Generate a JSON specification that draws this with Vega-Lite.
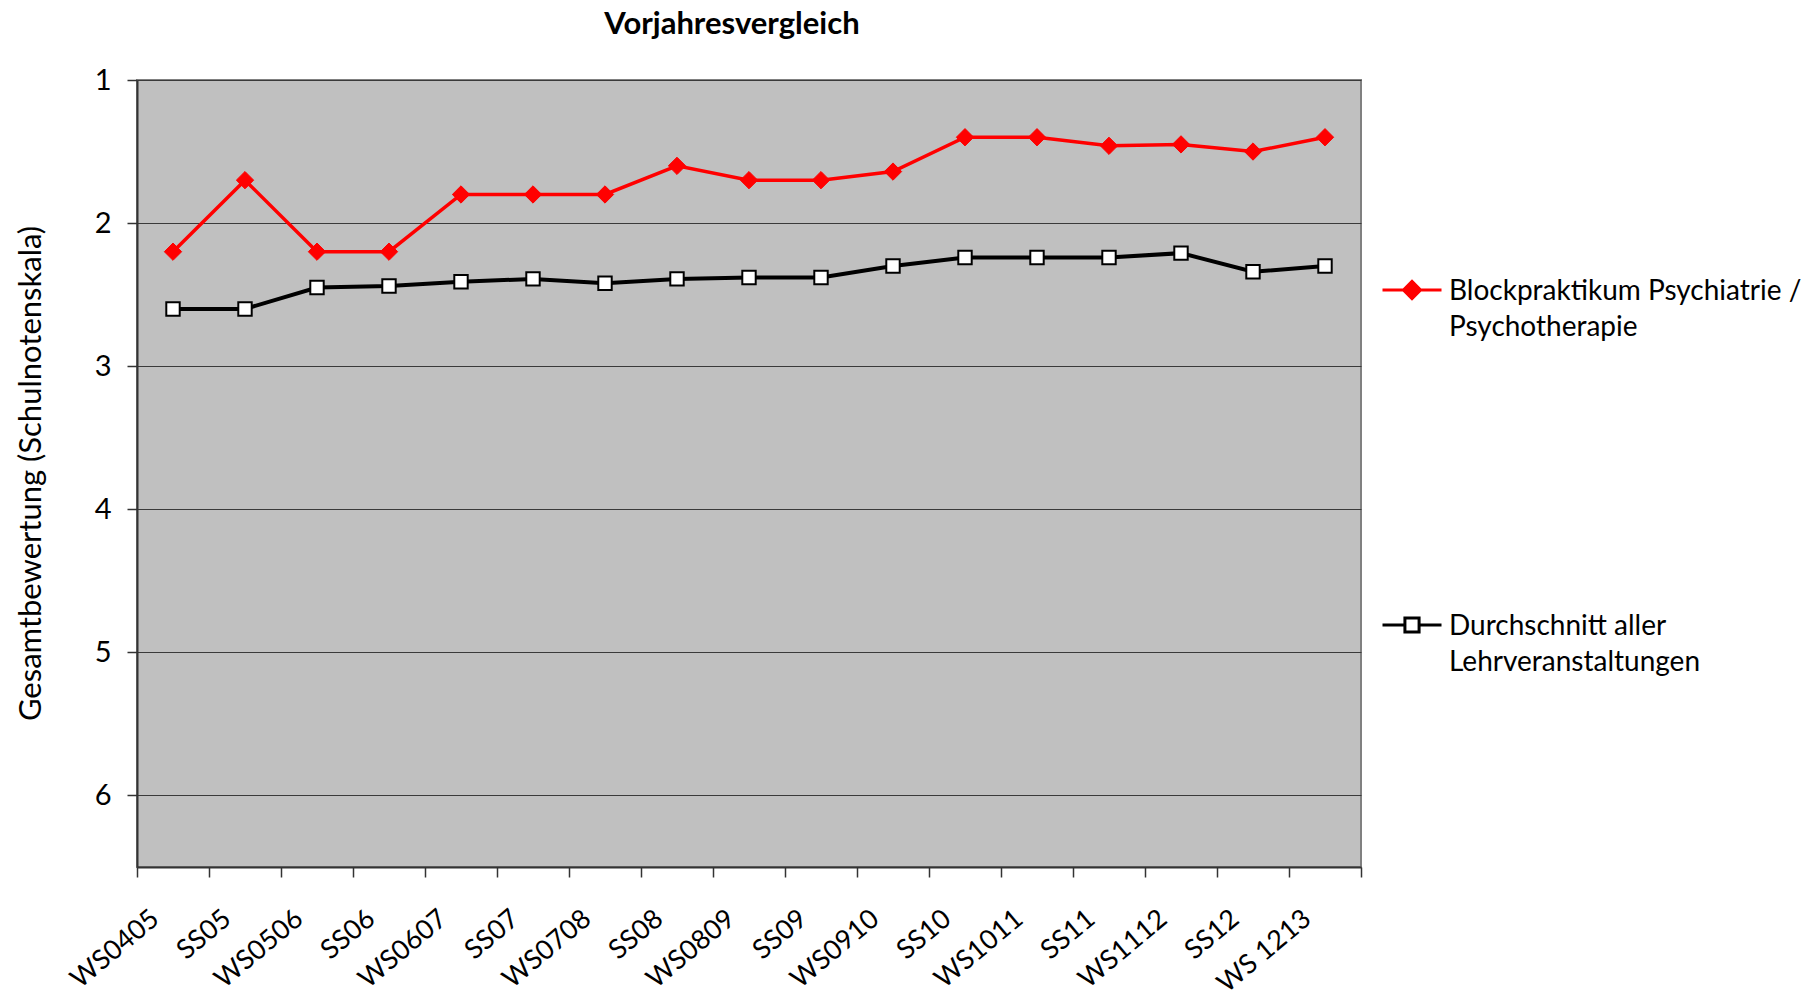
{
  "$schema": "https://vega.github.io/schema/vega-lite/v6.json",
  "width": 1224,
  "height": 787,
  "autosize": "none",
  "padding": {"left": 137, "top": 80, "right": 451, "bottom": 128},
  "background": "#ffffff",
  "title": {"text": "Vorjahresvergleich", "font": "Lato", "fontSize": 31, "fontWeight": "bold", "color": "#000000", "anchor": "middle", "dx": -17, "offset": 25},
  "config": {
    "view": {"fill": "#c0c0c0", "stroke": "#808080", "strokeWidth": 2},
    "style": {"guide-label": {"lineHeight": 36}}
  },
  "data": {"values": [
    {"term": "WS0405", "series": "Blockpraktikum Psychiatrie / Psychotherapie", "value": 2.2},
    {"term": "SS05", "series": "Blockpraktikum Psychiatrie / Psychotherapie", "value": 1.7},
    {"term": "WS0506", "series": "Blockpraktikum Psychiatrie / Psychotherapie", "value": 2.2},
    {"term": "SS06", "series": "Blockpraktikum Psychiatrie / Psychotherapie", "value": 2.2},
    {"term": "WS0607", "series": "Blockpraktikum Psychiatrie / Psychotherapie", "value": 1.8},
    {"term": "SS07", "series": "Blockpraktikum Psychiatrie / Psychotherapie", "value": 1.8},
    {"term": "WS0708", "series": "Blockpraktikum Psychiatrie / Psychotherapie", "value": 1.8},
    {"term": "SS08", "series": "Blockpraktikum Psychiatrie / Psychotherapie", "value": 1.6},
    {"term": "WS0809", "series": "Blockpraktikum Psychiatrie / Psychotherapie", "value": 1.7},
    {"term": "SS09", "series": "Blockpraktikum Psychiatrie / Psychotherapie", "value": 1.7},
    {"term": "WS0910", "series": "Blockpraktikum Psychiatrie / Psychotherapie", "value": 1.64},
    {"term": "SS10", "series": "Blockpraktikum Psychiatrie / Psychotherapie", "value": 1.4},
    {"term": "WS1011", "series": "Blockpraktikum Psychiatrie / Psychotherapie", "value": 1.4},
    {"term": "SS11", "series": "Blockpraktikum Psychiatrie / Psychotherapie", "value": 1.46},
    {"term": "WS1112", "series": "Blockpraktikum Psychiatrie / Psychotherapie", "value": 1.45},
    {"term": "SS12", "series": "Blockpraktikum Psychiatrie / Psychotherapie", "value": 1.5},
    {"term": "WS 1213", "series": "Blockpraktikum Psychiatrie / Psychotherapie", "value": 1.4},
    {"term": "WS0405", "series": "Durchschnitt aller Lehrveranstaltungen", "value": 2.6},
    {"term": "SS05", "series": "Durchschnitt aller Lehrveranstaltungen", "value": 2.6},
    {"term": "WS0506", "series": "Durchschnitt aller Lehrveranstaltungen", "value": 2.45},
    {"term": "SS06", "series": "Durchschnitt aller Lehrveranstaltungen", "value": 2.44},
    {"term": "WS0607", "series": "Durchschnitt aller Lehrveranstaltungen", "value": 2.41},
    {"term": "SS07", "series": "Durchschnitt aller Lehrveranstaltungen", "value": 2.39},
    {"term": "WS0708", "series": "Durchschnitt aller Lehrveranstaltungen", "value": 2.42},
    {"term": "SS08", "series": "Durchschnitt aller Lehrveranstaltungen", "value": 2.39},
    {"term": "WS0809", "series": "Durchschnitt aller Lehrveranstaltungen", "value": 2.38},
    {"term": "SS09", "series": "Durchschnitt aller Lehrveranstaltungen", "value": 2.38},
    {"term": "WS0910", "series": "Durchschnitt aller Lehrveranstaltungen", "value": 2.3},
    {"term": "SS10", "series": "Durchschnitt aller Lehrveranstaltungen", "value": 2.24},
    {"term": "WS1011", "series": "Durchschnitt aller Lehrveranstaltungen", "value": 2.24},
    {"term": "SS11", "series": "Durchschnitt aller Lehrveranstaltungen", "value": 2.24},
    {"term": "WS1112", "series": "Durchschnitt aller Lehrveranstaltungen", "value": 2.21},
    {"term": "SS12", "series": "Durchschnitt aller Lehrveranstaltungen", "value": 2.34},
    {"term": "WS 1213", "series": "Durchschnitt aller Lehrveranstaltungen", "value": 2.3}
  ]},
  "encoding": {
    "x": {
      "field": "term", "type": "nominal", "sort": null, "title": null,
      "scale": {"type": "band", "paddingInner": 0, "paddingOuter": 0},
      "axis": {
        "labelAngle": -40, "labelAlign": "right", "labelBaseline": "middle",
        "labelPadding": 38, "labelOffset": -18, "labelFont": "Lato", "labelFontSize": 27,
        "labelColor": "#000000", "tickBand": "extent", "tickSize": 10, "tickColor": "#333333",
        "tickWidth": 1.5, "domainColor": "#333333", "domainWidth": 2, "grid": false, "labelOverlap": false
      }
    },
    "y": {
      "field": "value", "type": "quantitative",
      "title": "Gesamtbewertung (Schulnotenskala)",
      "scale": {"domain": [1, 6.5], "reverse": true, "nice": false, "zero": false},
      "axis": {
        "values": [1, 2, 3, 4, 5, 6], "grid": true, "gridColor": "#3a3a3a", "gridWidth": 1,
        "tickSize": 10, "tickColor": "#333333", "tickWidth": 1.5, "domainColor": "#333333", "domainWidth": 2,
        "labelPadding": 16, "labelFont": "Lato", "labelFontSize": 29, "labelColor": "#000000",
        "titleFont": "Lato", "titleFontSize": 31, "titleFontWeight": "normal", "titleColor": "#000000",
        "titleX": -106, "titleY": 393, "titleAngle": 270, "titleAlign": "center", "titleBaseline": "middle"
      }
    }
  },
  "layer": [
    {
      "transform": [{"filter": "datum.series === 'Durchschnitt aller Lehrveranstaltungen'"}],
      "mark": {"type": "line", "color": "#000000", "strokeWidth": 4}
    },
    {
      "transform": [{"filter": "datum.series === 'Blockpraktikum Psychiatrie / Psychotherapie'"}],
      "mark": {"type": "line", "color": "#ff0000", "strokeWidth": 3.5}
    },
    {
      "transform": [{"filter": "datum.series === 'Durchschnitt aller Lehrveranstaltungen'"}],
      "mark": {"type": "point", "shape": "square", "filled": true, "fill": "#ffffff", "stroke": "#000000", "strokeWidth": 2, "size": 180, "opacity": 1}
    },
    {
      "transform": [{"filter": "datum.series === 'Blockpraktikum Psychiatrie / Psychotherapie'"}],
      "mark": {"type": "point", "shape": "diamond", "filled": true, "fill": "#ff0000", "stroke": "#ff0000", "strokeWidth": 1, "size": 300, "opacity": 1}
    },
    {
      "mark": {"type": "point", "filled": true, "opacity": 0, "size": 1},
      "encoding": {
        "shape": {
          "field": "series", "type": "nominal",
          "scale": {"domain": ["Blockpraktikum Psychiatrie / Psychotherapie", "Durchschnitt aller Lehrveranstaltungen"],
                    "range": ["M-1,-0.34H1M-0.29,-0.34L0,-0.63L0.29,-0.34L0,-0.05Z", "M-1,-0.34H-0.24M0.24,-0.34H1M-0.24,-0.58H0.24V-0.1H-0.24Z"]},
          "legend": {
            "title": null, "orient": "none", "legendX": 1244, "legendY": 189, "direction": "vertical",
            "symbolSize": 3481, "symbolStrokeWidth": 3, "symbolOpacity": 1,
            "labelFont": "Lato", "labelFontSize": 28, "labelColor": "#000000", "labelBaseline": "alphabetic",
            "labelOffset": 6, "labelLimit": 0, "rowPadding": 262, "padding": 0,
            "labelExpr": "datum.label == 'Durchschnitt aller Lehrveranstaltungen' ? ['Durchschnitt aller', 'Lehrveranstaltungen'] : ['Blockpraktikum Psychiatrie /', 'Psychotherapie']"
          }
        },
        "fill": {
          "field": "series", "type": "nominal",
          "scale": {"domain": ["Blockpraktikum Psychiatrie / Psychotherapie", "Durchschnitt aller Lehrveranstaltungen"], "range": ["#ff0000", "#ffffff"]},
          "legend": {
            "title": null, "orient": "none", "legendX": 1244, "legendY": 189, "direction": "vertical",
            "symbolSize": 3481, "symbolStrokeWidth": 3, "symbolOpacity": 1,
            "labelFont": "Lato", "labelFontSize": 28, "labelColor": "#000000", "labelBaseline": "alphabetic",
            "labelOffset": 6, "labelLimit": 0, "rowPadding": 262, "padding": 0,
            "labelExpr": "datum.label == 'Durchschnitt aller Lehrveranstaltungen' ? ['Durchschnitt aller', 'Lehrveranstaltungen'] : ['Blockpraktikum Psychiatrie /', 'Psychotherapie']"
          }
        },
        "stroke": {
          "field": "series", "type": "nominal",
          "scale": {"domain": ["Blockpraktikum Psychiatrie / Psychotherapie", "Durchschnitt aller Lehrveranstaltungen"], "range": ["#ff0000", "#000000"]},
          "legend": {
            "title": null, "orient": "none", "legendX": 1244, "legendY": 189, "direction": "vertical",
            "symbolSize": 3481, "symbolStrokeWidth": 3, "symbolOpacity": 1,
            "labelFont": "Lato", "labelFontSize": 28, "labelColor": "#000000", "labelBaseline": "alphabetic",
            "labelOffset": 6, "labelLimit": 0, "rowPadding": 262, "padding": 0,
            "labelExpr": "datum.label == 'Durchschnitt aller Lehrveranstaltungen' ? ['Durchschnitt aller', 'Lehrveranstaltungen'] : ['Blockpraktikum Psychiatrie /', 'Psychotherapie']"
          }
        }
      }
    }
  ]
}
